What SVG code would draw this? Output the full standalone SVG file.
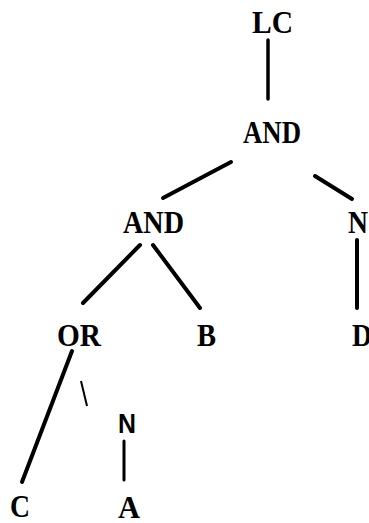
<svg xmlns="http://www.w3.org/2000/svg" width="369" height="523" viewBox="0 0 369 523">
<style>
.t{font-family:"Liberation Serif","Times New Roman",serif;font-weight:bold;font-size:32px;fill:#000}
.s{font-family:"Liberation Sans",Arial,sans-serif;font-weight:bold;font-size:28px;fill:#000}
.e{stroke:#000;stroke-width:4;stroke-linecap:round;fill:none}
.thin{stroke:#000;stroke-width:2;fill:none}
</style>
<rect width="369" height="523" fill="#fff"/>
<g id="edges">
<line class="e" x1="268" y1="40" x2="268" y2="99" style="stroke-width:3.5"/>
<line class="e" x1="231" y1="162" x2="163" y2="198"/>
<line class="e" x1="315" y1="176" x2="352" y2="199"/>
<line class="e" x1="140" y1="245" x2="83" y2="303"/>
<line class="e" x1="153" y1="245" x2="200" y2="308"/>
<line class="e" x1="357" y1="240" x2="357" y2="308"/>
<line class="e" x1="72" y1="351" x2="22" y2="482"/>
<line class="thin" x1="81" y1="381" x2="87" y2="406"/>
<line class="e" x1="124" y1="441" x2="124" y2="480" style="stroke-width:3"/>
</g>
<g id="n-lc"><text class="t" x="252" y="33" font-size="37" textLength="41" lengthAdjust="spacingAndGlyphs">LC</text></g>
<g id="n-and1"><text class="t" x="243" y="143" font-size="33" textLength="58" lengthAdjust="spacingAndGlyphs">AND</text></g>
<g id="n-and2"><text class="t" x="123" y="233" textLength="61" lengthAdjust="spacingAndGlyphs">AND</text></g>
<g id="n-n1"><text class="t" x="348" y="233" textLength="20" lengthAdjust="spacingAndGlyphs">N</text></g>
<g id="n-or"><text class="t" x="57" y="346" textLength="44" lengthAdjust="spacingAndGlyphs">OR</text></g>
<g id="n-b"><text class="t" x="197" y="346" font-size="33" textLength="19" lengthAdjust="spacingAndGlyphs">B</text></g>
<g id="n-d"><text class="t" x="352" y="346" font-size="33" textLength="20" lengthAdjust="spacingAndGlyphs">D</text></g>
<g id="n-n2"><text class="s" x="118" y="433" textLength="18" lengthAdjust="spacingAndGlyphs">N</text></g>
<g id="n-c"><text class="t" x="10" y="517" font-size="30" textLength="20" lengthAdjust="spacingAndGlyphs">C</text></g>
<g id="n-a"><text class="t" x="118" y="518" font-size="30" textLength="22" lengthAdjust="spacingAndGlyphs">A</text></g>
</svg>
